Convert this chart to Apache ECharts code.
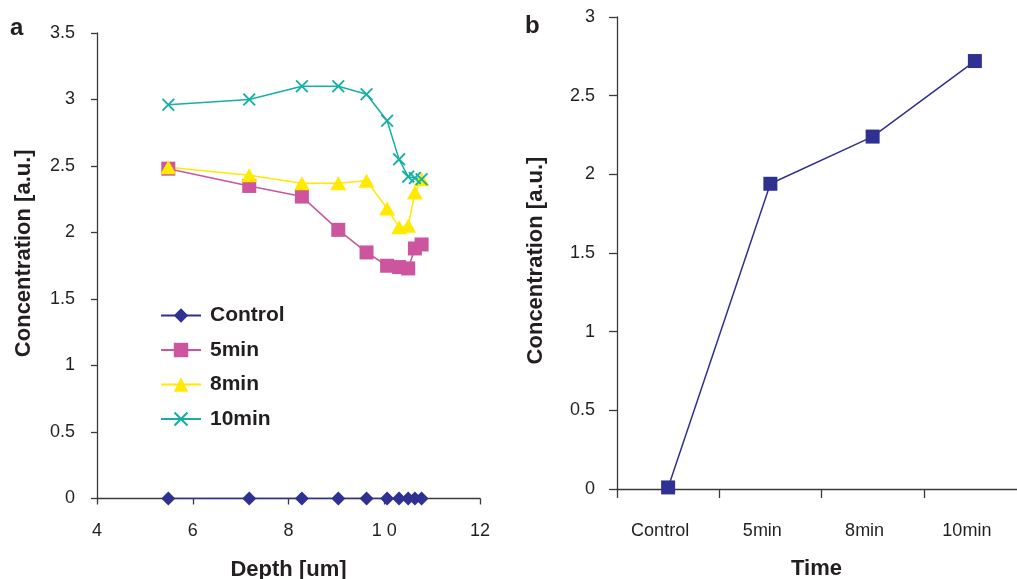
<!DOCTYPE html>
<html>
<head>
<meta charset="utf-8">
<script src="https://cdn.jsdelivr.net/npm/echarts@6/dist/echarts.min.js"></script>
<style>
html,body{margin:0;padding:0;background:#fff;}
#c{width:1017px;height:579px;}
</style>
</head>
<body>
<div id="c"></div>
<script>
// ---- data ----
const depth = [5.49, 7.18, 8.28, 9.04, 9.63, 10.06, 10.31, 10.50, 10.64, 10.78];
const control = [0, 0, 0, 0, 0, 0, 0, 0, 0, 0];
const min5 = [2.48, 2.35, 2.27, 2.02, 1.85, 1.75, 1.74, 1.73, 1.88, 1.91];
const min8 = [2.49, 2.43, 2.37, 2.37, 2.39, 2.18, 2.04, 2.05, 2.30, 2.40];
const min10 = [2.96, 3.00, 3.10, 3.10, 3.04, 2.84, 2.55, 2.42, 2.41, 2.40];
const timeCats = ['Control', '5min', '8min', '10min'];
const timeVals = [0.01, 1.94, 2.24, 2.72];
const seriesNames = ['Control', '5min', '8min', '10min'];

const FONT = '"Liberation Sans", Arial, sans-serif';
const TXT = '#231f20';
const AX = '#3a3a3a';
const COLORS = ['#2E3192', '#CC559E', '#FFEA00', '#14AFA5'];
const CROSS = 'path://M0,2L2,0L10,8L18,0L20,2L12,10L20,18L18,20L10,12L2,20L0,18L8,10Z';

const pair = (ys) => depth.map((d, i) => [d, ys[i]]);

const chart = echarts.init(document.getElementById('c'), null, {renderer: 'canvas'});

const axisLine = {show: true, lineStyle: {color: AX, width: 1.3}};
const tickLbl = {color: TXT, fontFamily: FONT, fontSize: 18};
const nameStyle = {color: TXT, fontFamily: FONT, fontSize: 22, fontWeight: 'bold'};

function leftSeries(idx, data, symbol, size) {
  return {
    name: seriesNames[idx], type: 'line', xAxisIndex: 0, yAxisIndex: 0,
    data: pair(data), symbol: symbol, symbolSize: size,
    lineStyle: {color: COLORS[idx], width: 1.5},
    itemStyle: {color: COLORS[idx]},
    emphasis: {disabled: true}, animation: false
  };
}

chart.setOption({
  animation: false,
  backgroundColor: '#fff',
  graphic: [
    {type: 'text', left: 10, top: 16, style: {text: 'a', font: 'bold 24px ' + FONT, fill: TXT}},
    {type: 'text', left: 525, top: 14, style: {text: 'b', font: 'bold 24px ' + FONT, fill: TXT}}
  ],
  grid: [
    {left: 97, top: 33, width: 383, height: 465.5, outerBoundsMode: 'none', containLabel: false},
    {left: 617, top: 17, width: 409, height: 472, outerBoundsMode: 'none', containLabel: false}
  ],
  legend: {
    data: seriesNames,
    orient: 'vertical', left: 160, top: 305, padding: 0,
    itemWidth: 40, itemHeight: 18, itemGap: 13.5, itemTextGap: 9,
    textStyle: {color: TXT, fontFamily: FONT, fontSize: 21, fontWeight: 'bold', padding: [0, 0, 0, 4]},
    selectedMode: false
  },
  xAxis: [
    {
      type: 'value', gridIndex: 0, min: 4, max: 12, interval: 2,
      axisLine: axisLine, splitLine: {show: false},
      axisTick: {show: true, length: 6, lineStyle: {color: AX, width: 1.3}},
      axisLabel: Object.assign({margin: 24, formatter: v => v === 10 ? '1 0' : String(v)}, tickLbl),
      name: 'Depth [um]', nameLocation: 'middle', nameGap: 60, nameTextStyle: nameStyle
    },
    {
      type: 'category', gridIndex: 1, data: timeCats, boundaryGap: true,
      axisLine: axisLine, splitLine: {show: false},
      axisTick: {show: true, length: 9, alignWithLabel: false, lineStyle: {color: AX, width: 1.3}},
      axisLabel: Object.assign({margin: 33, padding: [0, 16, 0, 0]}, tickLbl),
      name: 'Time', nameLocation: 'middle', nameGap: 69,
      nameTextStyle: Object.assign({padding: [0, 10, 0, 0]}, nameStyle)
    }
  ],
  yAxis: [
    {
      type: 'value', gridIndex: 0, min: 0, max: 3.5, interval: 0.5,
      axisLine: axisLine, splitLine: {show: false},
      axisTick: {show: true, length: 6, lineStyle: {color: AX, width: 1.3}},
      axisLabel: Object.assign({margin: 22}, tickLbl),
      name: 'Concentration [a.u.]', nameLocation: 'middle', nameGap: 62,
      nameTextStyle: Object.assign({padding: [0, 0, 0, 25]}, nameStyle)
    },
    {
      type: 'value', gridIndex: 1, min: 0, max: 3, interval: 0.5,
      axisLine: axisLine, splitLine: {show: false},
      axisTick: {show: true, length: 8, lineStyle: {color: AX, width: 1.3}},
      axisLabel: Object.assign({margin: 22}, tickLbl),
      name: 'Concentration [a.u.]', nameLocation: 'middle', nameGap: 70,
      nameTextStyle: Object.assign({padding: [0, 15, 0, 0]}, nameStyle)
    }
  ],
  series: [
    leftSeries(0, control, 'diamond', 14),
    leftSeries(1, min5, 'rect', 14),
    leftSeries(2, min8, 'triangle', [16, 14]),
    leftSeries(3, min10, CROSS, 13),
    {
      name: 'Time series', type: 'line', xAxisIndex: 1, yAxisIndex: 1,
      data: timeVals, symbol: 'rect', symbolSize: 14,
      lineStyle: {color: COLORS[0], width: 1.5},
      itemStyle: {color: COLORS[0]},
      emphasis: {disabled: true}
    }
  ]
});
</script>
</body>
</html>
